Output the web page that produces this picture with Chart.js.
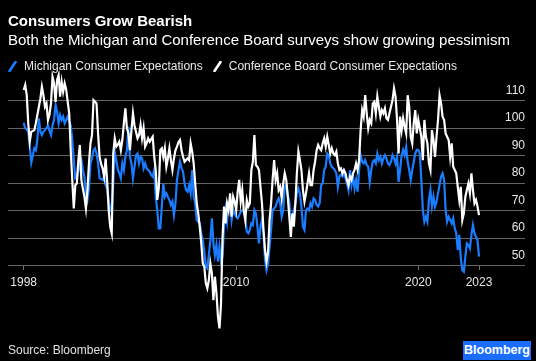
<!DOCTYPE html>
<html>
<head>
<meta charset="utf-8">
<script src="https://cdn.jsdelivr.net/npm/chart.js@4/dist/chart.umd.min.js"></script>
<style>
html,body{margin:0;padding:0;background:#000;width:536px;height:361px;overflow:hidden;font-family:"Liberation Sans",Arial,sans-serif;}
#wrap{position:relative;width:536px;height:361px;background:#000;}
#c{position:absolute;left:0;top:0;}
.title{position:absolute;left:8px;top:12px;color:#fff;font-weight:bold;font-size:15px;white-space:nowrap;}
.sub{position:absolute;left:8px;top:31px;color:#fff;font-size:15px;white-space:nowrap;}
.legend{position:absolute;left:8px;top:59px;color:#e8e8e8;font-size:12px;white-space:nowrap;display:flex;align-items:center;}
.legend svg{margin-right:7px;}
.legend .item{display:flex;align-items:center;margin-right:10px;}
.source{position:absolute;left:8px;top:343px;color:#e0e0e0;font-size:12px;white-space:nowrap;}
.logo{position:absolute;left:463px;top:341px;width:68px;height:19px;background:#1a6dff;color:#fff;font-weight:bold;font-size:12.5px;line-height:19px;text-align:center;}
</style>
</head>
<body>
<div id="wrap">
  <canvas id="c" width="536" height="361"></canvas>
  <div class="title">Consumers Grow Bearish</div>
  <div class="sub">Both the Michigan and Conference Board surveys show growing pessimism</div>
  <div class="legend">
    <span class="item"><svg width="9" height="11"><line x1="1.5" y1="10" x2="7.5" y2="1" stroke="#1a7cff" stroke-width="2.6" stroke-linecap="round"/></svg>Michigan Consumer Expectations</span>
    <span class="item"><svg width="9" height="11"><line x1="1.5" y1="10" x2="7.5" y2="1" stroke="#ffffff" stroke-width="2.6" stroke-linecap="round"/></svg>Conference Board Consumer Expectations</span>
  </div>
  <div class="source">Source: Bloomberg</div>
  <div class="logo">Bloomberg</div>
</div>
<script>
// Monthly series, May 1998 .. May 2023
const startYear = 1998;
const startMonth = 5;

const michigan = [
  102, 100, 99.6, 98.7, 93.3, 87.5, 90, 92.7, 92, 95.7,
  103.6, 98.7, 97.5, 98.7, 99.3, 100, 101, 99, 97.5, 101,
  103, 108.4, 106, 101.8, 104.8, 103, 104.2, 101.8, 103, 104.2,
  102.4, 101, 95.7, 88.4, 81.8, 82.4, 84.2, 87.2, 88.4, 85,
  82.4, 76.3, 73.9, 78.1, 87.2, 89, 92, 92.7, 90.8, 87.2,
  81.8, 81.5, 81.2, 82.4, 79.3, 78.1, 73.9, 70.2, 69.6, 79.9,
  91.5, 88.4, 85, 83.6, 81.8, 87.2, 84.8, 89.6, 92, 100.5,
  89.6, 87.2, 81.8, 86, 90.2, 90.8, 87.2, 89.6, 89, 85.4,
  87.2, 85.4, 84.8, 84.2, 83, 82.4, 84.8, 75.1, 70.2, 63.6,
  63.6, 71.5, 79.9, 75.1, 76.3, 75, 73.9, 72.1, 73.3, 68.4,
  72.7, 81.2, 84.8,
  87.8, 85.4, 84.2, 79.9, 77.5, 76.9, 79.3,
  76.3, 84.8, 75.1, 72.7, 66.6, 66, 65.4, 61.8, 59.3, 55.1,
  49.6, 49, 53.9, 59.3, 67.2, 58.1, 53.9, 57.5, 51.5, 56.9,
  51.5, 53.3, 64.2, 70.2, 66, 72.7, 73.9, 66.6, 70.2, 69,
  67.8, 67.2, 68.4, 69.6, 70.2, 69.6, 67.2, 62.4, 61.8, 63,
  65.4, 64.8, 70.2, 69, 64.2, 58.1, 64.2, 66.6, 61.8, 52.1,
  48.4, 50.8, 56.9, 63, 70.2, 70.8, 71.5, 73.3, 74.5, 72.7,
  67.8, 70.2, 78.7, 79.3, 75.7, 73.3, 65.4, 67.8, 70.2, 72.7,
  76.3, 78.1, 76.3, 71.5, 64.2, 63, 70.2, 70.8, 70.2, 72.7,
  71.5, 74.5, 73.9, 72.1, 71.5, 72.7, 79.3, 79.9, 84.8, 86,
  90.8, 90.2, 87.2, 86,
  85.4, 84.8, 83.6, 78.7, 82.4, 83,
  82.4, 83.6, 81.8, 79.9, 77.5, 84.8, 79.3, 82.4, 78.1, 81.2,
  76.9, 84.8, 90.2, 87.8, 87.2, 88.4, 86.6, 86, 80.5, 84.8,
  87.8, 88.4, 87.2, 90.8, 88.4, 89.6, 87.2, 89, 90.2, 89,
  87.2, 86.6, 87.8, 90.2, 89, 87.2, 89.6, 80.5, 84.8, 90.2,
  92.1, 90.2, 93.3, 87.8, 84.8, 81.2, 84.8, 87.8, 90.8, 92.1,
  92.1, 90.8, 81.2, 70.2, 66, 67.8, 66, 73.9, 77.5, 71.5,
  75.1, 71.5, 73.3, 76.3, 79.3, 82.4, 83.6, 81.2, 70.2, 66,
  67.8, 66.6, 65.4, 67.2, 63.6, 61.8, 55.7, 61.2, 52.7, 48.4,
  47.8, 53.3, 58.1, 57.5, 56.3, 61.2, 64.8, 61.8, 60.5, 59.3,
  53.3
];

const confBoard = [
  113.9, 115.7, 112, 101.8, 95.1, 98.7, 99, 99.3, 101.8, 104.8,
  107.8, 110.8, 115.1, 112, 107.8, 109, 103, 105, 109, 118.7,
  116.3, 109.6, 117.5, 119.3, 111.5, 116.9, 113.3, 116.3, 114, 109.6,
  105.4, 92, 81.2, 70.8, 79.3, 79.9, 88.4, 93.9, 81.2, 78,
  75.1, 70.8, 77.5, 87.2, 94.5, 97.5, 110.2, 109.6, 109, 98.1,
  89.6, 87, 85.4, 82.4, 89, 80.5, 70.2, 64.2, 61.8, 90.8,
  96.3, 93.3, 94, 95.1, 92, 95.7, 101.8, 107.2, 100, 98.1,
  92, 99.3, 105.4, 101, 98.7, 96.3, 97.5, 101.2, 96.3, 100,
  93.3, 94.5, 96.3, 95.1, 96, 96.9, 89.6, 84.8, 73.9, 78.1,
  92, 92.7, 89.6, 92.7, 86, 89, 92.7, 88.4, 84.8, 89,
  92, 93.3, 95,
  95.7, 92, 89.6, 87.8, 88.4, 89, 88.4,
  94.5, 91.5, 87.2, 79.9, 72.7, 69, 64.2, 58.1, 50.8, 49.6,
  43.6, 41.8, 44.8, 50.8, 47.2, 37.5, 46, 39.9, 31.5, 27.2,
  36, 60, 71.5, 65.4, 72.7, 70.2, 76.3, 67.8, 75.1, 73.3,
  70.2, 76.9, 81.2, 73.3, 77.5, 70.2, 66.6, 73.9, 71.5, 72.7,
  84.8, 87.8, 97.5, 86.6, 86, 84.8, 78.7, 72.7, 63, 55.7,
  51.5, 55, 66.6, 72.7, 81.2, 88.4, 81.2, 83.6, 77.5, 78.7,
  74.5, 79.9, 83.6, 81.2, 75.1, 67.8, 60.5, 69, 64.2, 72.7,
  83.6, 91.5, 88.4, 84.8, 77.5, 73.3, 76.3, 79.9, 83.6, 79.3,
  79.3, 84.8, 87.8, 92, 93.9, 92.7, 92, 94.5, 96.3, 93.3,
  96.9, 93.9, 90.8, 92.7,
  90.8, 90.2, 91.5, 87.2, 84.8, 85.4,
  83.6, 84.8, 83.6, 81.2, 79.3, 82.4, 81.2, 83.6, 84.8, 87.2,
  84.8, 88.4, 99.3, 106.6, 104.2, 112, 105.4, 100, 103, 101.8,
  109, 109.6, 105.4, 111.5, 107.8, 104.2, 106.6, 105.4, 107.2, 103.6,
  103, 105.4, 107.8, 110.2, 114.5, 111.5, 103, 90.8, 104.2, 99.3,
  103.6, 100.5, 98.1, 112, 107.8, 96.9, 94.5, 101.8, 106.6, 98.1,
  103, 100, 96.9, 88.4, 103, 96.9, 94.5, 87.2, 84.8, 99.3,
  95.7, 89.6, 96.9, 103, 112, 109, 104.2, 103, 98.1, 96.9,
  95.7, 89.6, 94.5, 86, 84.8, 83.6, 78.7, 73.9, 78.7, 66.6,
  69, 75.1, 77.5, 79.9, 76.3, 83.6, 77.5, 72.7, 73.9, 71.5,
  68.4
];

const yTickValues = [50, 60, 70, 80, 90, 100, 110];
const xTickLabels = ['1998', '2010', '2020', '2023'];
const xTickMonths = ['1998-05', '2010-01', '2020-01', '2023-05'];

// month labels (categories)
const months = michigan.map((_, i) => {
  const t = (startMonth - 1) + i;
  const y = startYear + Math.floor(t / 12);
  const m = (t % 12) + 1;
  return y + '-' + (m < 10 ? '0' + m : m);
});
const xTickIdx = xTickMonths.map(s => months.indexOf(s));

const BLUE = '#1a7cff';
const FONT = '"Liberation Sans", Arial, sans-serif';
Chart.defaults.font.family = FONT;

new Chart(document.getElementById('c'), {
  type: 'line',
  data: {
    datasets: [
      {
        label: 'Michigan Consumer Expectations',
        data: michigan.map((v, i) => ({ x: i, y: v })),
        borderColor: BLUE,
        borderWidth: 2.2,
        pointRadius: 0,
        tension: 0,
        order: 1
      },
      {
        label: 'Conference Board Consumer Expectations',
        data: confBoard.map((v, i) => ({ x: i, y: v })),
        borderColor: '#ffffff',
        borderWidth: 2.2,
        pointRadius: 0,
        tension: 0,
        order: 0
      }
    ]
  },
  options: {
    responsive: false,
    animation: false,
    devicePixelRatio: 1,
    layout: { padding: { left: 8, right: 11, top: 70.45, bottom: 26.55 } },
    plugins: { legend: { display: false }, tooltip: { enabled: false } },
    scales: {
      x: {
        type: 'linear',
        min: -10.34,
        max: 330.3,
        position: { y: 50 },
        afterBuildTicks: s => { s.ticks = xTickIdx.map(v => ({ value: v })); },
        afterFit: s => { s.height = 0; },
        grid: { drawOnChartArea: false, drawTicks: true, tickLength: 4, color: '#707070', lineWidth: 1 },
        border: { display: false },
        ticks: {
          color: '#e6e6e6',
          font: { size: 12 },
          padding: 6,
          maxRotation: 0,
          autoSkip: false,
          callback: (v, i) => xTickLabels[i]
        }
      },
      y: {
        type: 'linear',
        min: 25,
        max: 121,
        position: 'right',
        afterBuildTicks: s => { s.ticks = yTickValues.map(v => ({ value: v })); },
        afterFit: s => { s.width = 0; },
        grid: { color: '#646464', lineWidth: 1, drawTicks: false },
        border: { display: false },
        ticks: { mirror: true, labelOffset: -10.5, padding: 0, color: '#e6e6e6', font: { size: 12 } }
      }
    }
  }
});
</script>
</body>
</html>
